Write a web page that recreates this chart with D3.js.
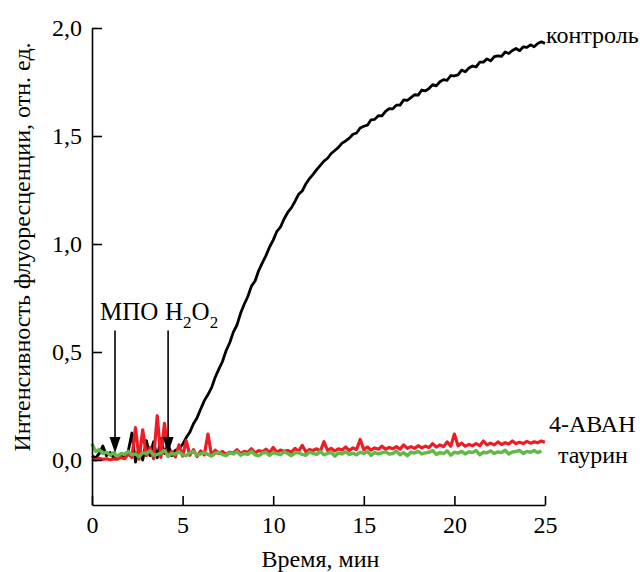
<html>
<head>
<meta charset="utf-8">
<style>
  body { margin: 0; background: #fff; }
</style>
</head>
<body>
  <div id = 'chartSection'></div>
  <script src = 'https://cdn.jsdelivr.net/npm/d3@7/dist/d3.min.js'></script>
  <script>
    // time step 0.2 min, t = 0 .. 25
    var timeStep = 0.2;

    var controlValues = [
      0.020,0.010,0.030,0.065,0.020,0.035,0.010,0.005,0.020,0.010,
      0.040,0.125,-0.010,0.060,0.000,0.090,0.020,0.085,0.010,0.100,
      0.030,0.075,0.020,0.045,
      0.052,0.072,0.104,0.129,0.168,0.196,0.236,0.275,0.303,0.335,
      0.383,0.421,0.456,0.506,0.543,0.592,0.625,0.679,0.721,0.757,
      0.805,0.829,0.877,0.913,0.946,0.986,1.018,1.058,1.078,1.116,
      1.146,1.167,1.197,1.230,1.245,1.278,1.303,1.322,1.344,1.364,
      1.384,1.397,1.419,1.433,1.447,1.467,1.477,1.490,1.508,1.514,
      1.537,1.545,1.550,1.575,1.577,1.594,1.593,1.614,1.627,1.626,
      1.643,1.643,1.667,1.665,1.678,1.691,1.689,1.713,1.709,1.720,
      1.738,1.732,1.751,1.761,1.758,1.780,1.778,1.783,1.805,1.797,
      1.815,1.824,1.820,1.842,1.842,1.857,1.848,1.867,1.871,1.869,
      1.889,1.882,1.896,1.905,1.895,1.913,1.910,1.922,1.913,1.928,
      1.936,1.929
    ];

    var abahValues = [
      0.004,0.000,0.008,0.003,0.006,0.001,0.005,0.004,0.012,0.006,
      0.028,0.012,0.150,0.004,0.140,0.020,0.058,0.006,0.205,0.012,
      0.170,0.022,0.040,0.014,0.070,0.018,0.090,0.022,0.048,0.016,
      0.042,0.024,0.120,0.020,0.046,0.030,0.040,0.026,0.036,0.032,
      0.048,0.030,0.040,0.036,0.052,0.032,0.044,0.038,0.050,0.034,
      0.058,0.036,0.046,0.040,0.044,0.036,0.054,0.040,0.068,0.038,
      0.048,0.044,0.052,0.040,0.085,0.044,0.054,0.042,0.052,0.046,
      0.060,0.044,0.056,0.048,0.095,0.048,0.060,0.046,0.056,0.050,
      0.064,0.050,0.058,0.052,0.062,0.050,0.070,0.054,0.062,0.054,
      0.066,0.056,0.064,0.058,0.076,0.060,0.070,0.062,0.084,0.064,
      0.120,0.066,0.078,0.064,0.072,0.066,0.076,0.066,0.088,0.070,
      0.078,0.070,0.084,0.072,0.080,0.074,0.088,0.076,0.082,0.076,
      0.086,0.078,0.084,0.080,0.088,0.082
    ];

    var taurineValues = [
      0.075,0.040,0.048,0.030,0.036,0.022,0.034,0.018,0.030,0.026,
      0.040,0.024,0.028,0.014,0.034,0.030,0.042,0.022,0.026,0.032,
      0.044,0.016,0.030,0.027,0.038,0.024,0.020,0.033,0.040,0.022,
      0.028,0.034,0.026,0.018,0.031,0.036,0.025,0.020,0.033,0.028,
      0.038,0.022,0.030,0.026,0.040,0.024,0.019,0.032,0.036,0.021,
      0.034,0.029,0.024,0.038,0.030,0.020,0.033,0.035,0.026,0.022,
      0.037,0.030,0.026,0.040,0.024,0.030,0.036,0.018,0.033,0.028,
      0.038,0.026,0.031,0.024,0.036,0.030,0.040,0.022,0.034,0.028,
      0.033,0.038,0.027,0.030,0.041,0.024,0.034,0.020,0.036,0.032,
      0.040,0.028,0.033,0.036,0.044,0.026,0.035,0.030,0.042,0.022,
      0.036,0.032,0.040,0.028,0.038,0.034,0.044,0.024,0.036,0.033,
      0.042,0.030,0.038,0.034,0.045,0.028,0.037,0.040,0.044,0.030,
      0.040,0.036,0.044,0.034,0.042
    ];

    var xTicks = [0, 5, 10, 15, 20, 25],
        yTicks = [0, 0.5, 1.0, 1.5, 2.0];

    var seriesNames = ['контроль', '4-АВАН', 'таурин'],
        seriesColors = ['#000000', '#ee1c24', '#62b848'],
        seriesWidths = [2.8, 3.2, 3.4];

    var arrowTimes = [1.27, 4.2],
        arrowTop = 0.60,
        arrowTip = 0.032;

    var serif = '"Tinos", "Liberation Serif", serif';

    var svgWidth = 640,
        svgHeight = 572,
        svg = d3.select('#chartSection').append('svg')
                .attr('width', svgWidth)
                .attr('height', svgHeight);

    var x = d3.scaleLinear().domain([0, 25]).range([92, 545]),
        y = d3.scaleLinear().domain([-45 / 216, 2]).range([505, 28]);

    var commaFmt = function(d){ return d3.format('.1f')(d).replace('.', ','); };

    var line = d3.line()
      .x(function(d, i){ return x(i * timeStep); })
      .y(function(d){ return y(d); });

    var allSeries = [controlValues, abahValues, taurineValues];

    svg.selectAll('path.series')
      .data(allSeries)
      .enter()
      .append('path')
      .attr('class', 'series')
      .attr('fill', 'none')
      .attr('stroke', function(d, i){ return seriesColors[i]; })
      .attr('stroke-width', function(d, i){ return seriesWidths[i]; })
      .attr('stroke-linejoin', 'round')
      .attr('d', line);

    var xAxis = svg.append('g')
      .attr('transform', 'translate(0,505)')
      .call(d3.axisBottom(x).tickValues(xTicks).tickSizeInner(-9).tickSizeOuter(0).tickPadding(11));

    var yAxis = svg.append('g')
      .attr('transform', 'translate(92,0)')
      .call(d3.axisLeft(y).tickValues(yTicks).tickFormat(commaFmt).tickSizeInner(-10).tickSizeOuter(0).tickPadding(10));

    xAxis.attr('font-family', null);
    yAxis.attr('font-family', null);
    svg.selectAll('.domain, .tick line').attr('stroke', '#000').attr('stroke-width', 1.6);
    svg.selectAll('.tick text').style('font-size', '24px').attr('fill', '#000');

    // axis titles
    svg.append('text')
      .attr('x', x(12.5) + 2)
      .attr('y', 567)
      .attr('text-anchor', 'middle')
      .style('font-size', '24px')
      .text('Время, мин');

    svg.append('text')
      .attr('transform', 'translate(30,' + 247 + ') rotate(-90)')
      .attr('text-anchor', 'middle')
      .style('font-size', '24px')
      .text('Интенсивность флуоресценции, отн. ед.');

    // series labels
    var lastVal = function(arr){ return arr[arr.length - 1]; };
    svg.append('text')
      .attr('x', x(25) + 1)
      .attr('y', y(lastVal(controlValues)))
      .style('font-size', '24px')
      .text(seriesNames[0]);
    svg.append('text')
      .attr('x', x(25) + 4)
      .attr('y', y(lastVal(abahValues)) - 10)
      .style('font-size', '24px')
      .text(seriesNames[1]);
    svg.append('text')
      .attr('x', x(25) + 13)
      .attr('y', y(lastVal(taurineValues)) + 12)
      .style('font-size', '24px')
      .text(seriesNames[2]);

    // arrows for additions
    svg.selectAll('line.arrow')
      .data(arrowTimes)
      .enter()
      .append('line')
      .attr('class', 'arrow')
      .attr('x1', function(d){ return x(d); })
      .attr('x2', function(d){ return x(d); })
      .attr('y1', y(arrowTop))
      .attr('y2', y(arrowTip) - 10)
      .attr('stroke', '#000')
      .attr('stroke-width', 1.6);

    svg.selectAll('path.head')
      .data(arrowTimes)
      .enter()
      .append('path')
      .attr('class', 'head')
      .attr('fill', '#000')
      .attr('d', function(d){
        var cx = x(d), ty = y(arrowTip);
        return 'M' + (cx - 5.5) + ',' + (ty - 16) + 'L' + (cx + 5.5) + ',' + (ty - 16) + 'L' + cx + ',' + ty + 'Z';
      });

    svg.append('text')
      .attr('x', 100)
      .attr('y', 320)
      .style('font-size', '25px')
      .text('МПО');

    var h2o2 = svg.append('text')
      .attr('x', 165)
      .attr('y', 320)
      .style('font-size', '25px');
    h2o2.append('tspan').text('H');
    h2o2.append('tspan').attr('dy', 8).style('font-size', '17px').text('2');
    h2o2.append('tspan').attr('dy', -8).text('O');
    h2o2.append('tspan').attr('dy', 8).style('font-size', '17px').text('2');

    svg.selectAll('text').style('font-family', serif);
  </script>
</body>
</html>
